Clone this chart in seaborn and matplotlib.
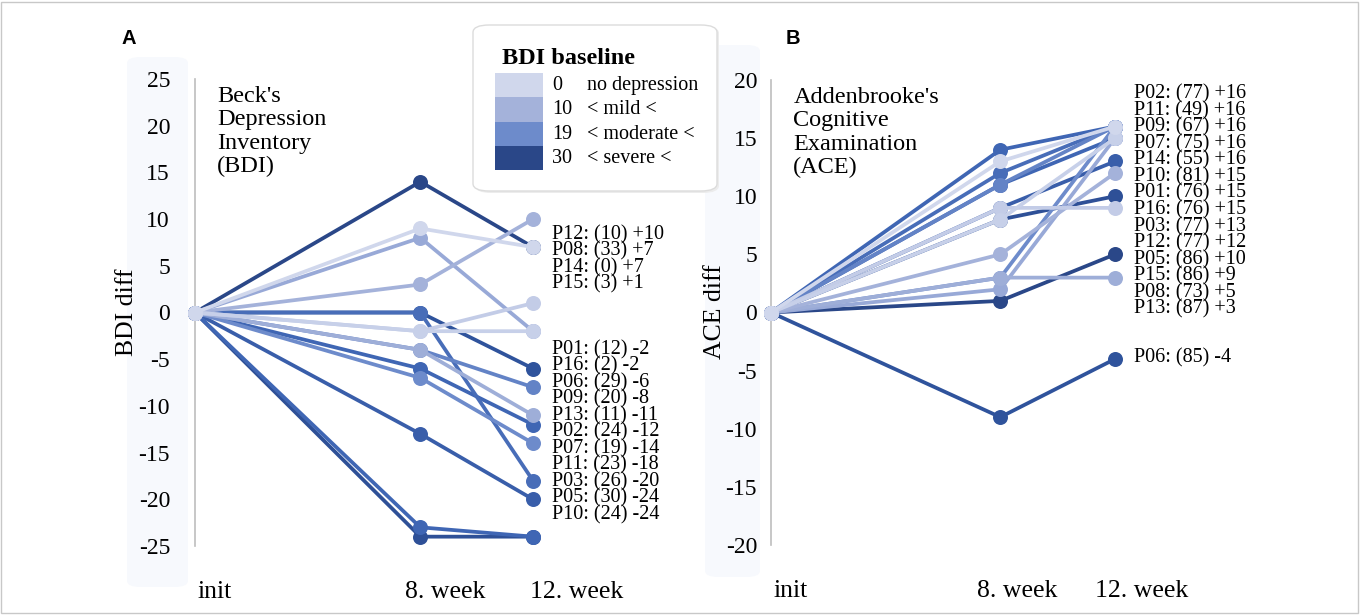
import numpy as np
import pandas as pd
import matplotlib
matplotlib.use("Agg")
import matplotlib.pyplot as plt
import seaborn as sns
from matplotlib.colors import LinearSegmentedColormap, Normalize
from matplotlib.patches import FancyBboxPatch, Rectangle

# ---------------- data ----------------
participants = ["P01", "P02", "P03", "P05", "P06", "P07", "P08", "P09",
                "P10", "P11", "P12", "P13", "P14", "P15", "P16"]
bdi_baseline = [12, 24, 26, 30, 29, 19, 33, 20, 24, 23, 10, 11, 0, 3, 2]
bdi_week8 = [8, -6, -13, -24, 0, -7, 14, -4, -23, 0, 3, -4, 9, -2, -2]
bdi_week12 = [-2, -12, -20, -24, -6, -14, 7, -8, -24, -18, 10, -11, 7, 1, -2]
ace_baseline = [76, 77, 77, 86, 85, 75, 73, 67, 81, 49, 77, 87, 55, 86, 76]
ace_week8 = [2, 14, 9, 8, -9, 3, 1, 11, 11, 12, 5, 3, 13, 9, 8]
ace_week12 = [15, 16, 13, 10, -4, 16, 5, 16, 15, 16, 12, 3, 16, 9, 15]

weeks = [0, 8, 12]
week_labels = ["init", "8. week", "12. week"]

bdi_labels_top = ["P12", "P08", "P14", "P15"]
bdi_labels_bottom = ["P01", "P16", "P06", "P09", "P13", "P02", "P07",
                     "P11", "P03", "P05", "P10"]
ace_labels_top = ["P02", "P11", "P09", "P07", "P14", "P10", "P01", "P16",
                  "P03", "P12", "P05", "P15", "P08", "P13"]
ace_labels_bottom = ["P06"]

legend_thresholds = ["0", "10", "19", "30"]
legend_names = ["no depression", "< mild <", "< moderate <", "< severe <"]
legend_swatch_values = [0, 10, 19, 33]

# ---------------- style ----------------
sns.set_style("white")
plt.rcParams["font.family"] = ["Liberation Serif", "DejaVu Serif"]
plt.rcParams["axes.unicode_minus"] = False
plt.rcParams["text.color"] = "black"
plt.rcParams["ytick.color"] = "black"
plt.rcParams["xtick.color"] = "black"
plt.rcParams["axes.labelcolor"] = "black"

cmap = LinearSegmentedColormap.from_list(
    "bdi", [(0.0, "#d0d7ec"), (10 / 33, "#a4b2da"), (19 / 33, "#6d8bcb"),
            (24 / 33, "#3f66b4"), (29 / 33, "#2f539c"), (1.0, "#2a4788")])
norm = Normalize(0, 33)

rows = []
for i, p in enumerate(participants):
    v0 = [0, bdi_week8[i], bdi_week12[i]]
    a0 = [0, ace_week8[i], ace_week12[i]]
    for w, b, a in zip(weeks, v0, a0):
        rows.append(dict(participant=p, baseline=bdi_baseline[i],
                         ace_base=ace_baseline[i], week=w, bdi=b, ace=a))
df = pd.DataFrame(rows)

W, H = 1360, 615
fig = plt.figure(figsize=(W / 100, H / 100), dpi=100)


def fx(x):
    return x / W


def fy(y):
    return 1 - y / H


# figure border
fig.add_artist(Rectangle((fx(1), fy(613)), fx(1357), 611 / H, transform=fig.transFigure,
                         fill=False, edgecolor="#c8c8c8", lw=1.0))
# light tick-label background patches
for (x0, y0, x1, y1) in [(127, 57, 188, 587), (705, 45, 760, 577)]:
    fig.add_artist(FancyBboxPatch((fx(x0), fy(y1)), fx(x1 - x0), (y1 - y0) / H,
                                  boxstyle="round,pad=0,rounding_size=0.01",
                                  transform=fig.transFigure, facecolor="#f7f9fd",
                                  edgecolor="none", zorder=0))

axA = fig.add_axes([fx(195), fy(546), fx(533 - 195), (546 - 79) / H])
axB = fig.add_axes([fx(771), fy(545), fx(1115 - 771), (545 - 80) / H])

order = sorted(participants, key=lambda p: -bdi_baseline[participants.index(p)])


def draw(ax, col, ylim, yticks, title, tick_pad, label_groups, base_col, xlab_shift):
    for p in order:
        sub = df[df.participant == p]
        c = cmap(norm(sub.baseline.iloc[0]))
        sns.lineplot(data=sub, x="week", y=col, ax=ax, color=c, lw=2.7,
                     marker="o", markersize=10.8, markeredgewidth=0,
                     clip_on=False, legend=False, sort=False, zorder=3)
    ax.set_xlim(0, 12)
    ax.set_ylim(*ylim)
    ax.set_yticks(yticks)
    ax.set_yticklabels([str(t) for t in yticks], fontsize=17)
    ax.tick_params(axis="y", length=0, pad=tick_pad)
    ax.set_xticks([])
    ax.set_xlabel("")
    ax.set_ylabel("")
    for s in ["top", "right", "bottom"]:
        ax.spines[s].set_visible(False)
    ax.spines["left"].set_color("#bdbdbd")
    ax.spines["left"].set_linewidth(1.2)
    ax.patch.set_alpha(0)
    # x labels
    for w, lab, sh in zip(weeks, week_labels, xlab_shift):
        ax.annotate(lab, xy=(w, 0), xycoords=("data", "axes fraction"),
                    xytext=(sh, -46), textcoords="offset pixels",
                    ha="left", va="center", fontsize=18.5)
    # title text
    ax.text(0.065, 0.985, title, transform=ax.transAxes, ha="left", va="top",
            fontsize=17.5, linespacing=1.15)
    # participant labels: one stacked text block per group
    lookup = df[df.week == 12].set_index("participant")
    for names, start in label_groups:
        block = "\n".join(
            f"{p}: ({lookup.loc[p, base_col]}) {int(lookup.loc[p, col]):+d}"
            for p in names)
        ax.annotate(block, xy=(12, start), xycoords="data",
                    xytext=(19, 7), textcoords="offset pixels",
                    ha="left", va="top", fontsize=14.5, linespacing=0.808,
                    annotation_clip=False)


draw(axA, "bdi", (-25, 25), list(range(-25, 26, 5)),
     "Beck's\nDepression\nInventory\n(BDI)", 18,
     [(bdi_labels_top, 8.6), (bdi_labels_bottom, -3.7)], "baseline",
     [2, -15, -3])
draw(axB, "ace", (-20, 20), list(range(-20, 21, 5)),
     "Addenbrooke's\nCognitive\nExamination\n(ACE)", 10,
     [(ace_labels_top, 19.0), (ace_labels_bottom, -3.7)], "ace_base",
     [2, -23, -20])

fig.text(fx(127), fy(312), "BDI diff", rotation=90, ha="center", va="center", fontsize=18.5)
fig.text(fx(715), fy(312), "ACE diff", rotation=90, ha="center", va="center", fontsize=18.5)
fig.text(fx(122), fy(38), "A", ha="left", va="center", fontsize=14.5, fontweight="bold",
         family=["Liberation Sans", "DejaVu Sans"])
fig.text(fx(786), fy(38), "B", ha="left", va="center", fontsize=14.5, fontweight="bold",
         family=["Liberation Sans", "DejaVu Sans"])

# legend box
fig.add_artist(FancyBboxPatch((fx(475), fy(193)), fx(244), 167 / H,
                              boxstyle="round,pad=0,rounding_size=0.012",
                              transform=fig.transFigure, facecolor="#ececec",
                              edgecolor="none", zorder=4))
fig.add_artist(FancyBboxPatch((fx(473), fy(191)), fx(244), 166 / H,
                              boxstyle="round,pad=0,rounding_size=0.012",
                              transform=fig.transFigure, facecolor="white",
                              edgecolor="#dcdcdc", lw=1.0, zorder=5))
fig.text(fx(502), fy(59), "BDI baseline", ha="left", va="center", fontsize=17.5,
         fontweight="bold", zorder=6)
for i, (t, n, v) in enumerate(zip(legend_thresholds, legend_names, legend_swatch_values)):
    top = 73 + i * 24.3
    fig.add_artist(Rectangle((fx(495), fy(top + 24.3)), fx(48), 24.3 / H,
                             transform=fig.transFigure, facecolor=cmap(norm(v)),
                             edgecolor="none", zorder=6))
    fig.text(fx(552), fy(top + 12.5), t, ha="left", va="center", fontsize=14.5, zorder=6)
    fig.text(fx(587), fy(top + 12.5), n, ha="left", va="center", fontsize=14.5, zorder=6)

fig.savefig("out.png", dpi=100)
